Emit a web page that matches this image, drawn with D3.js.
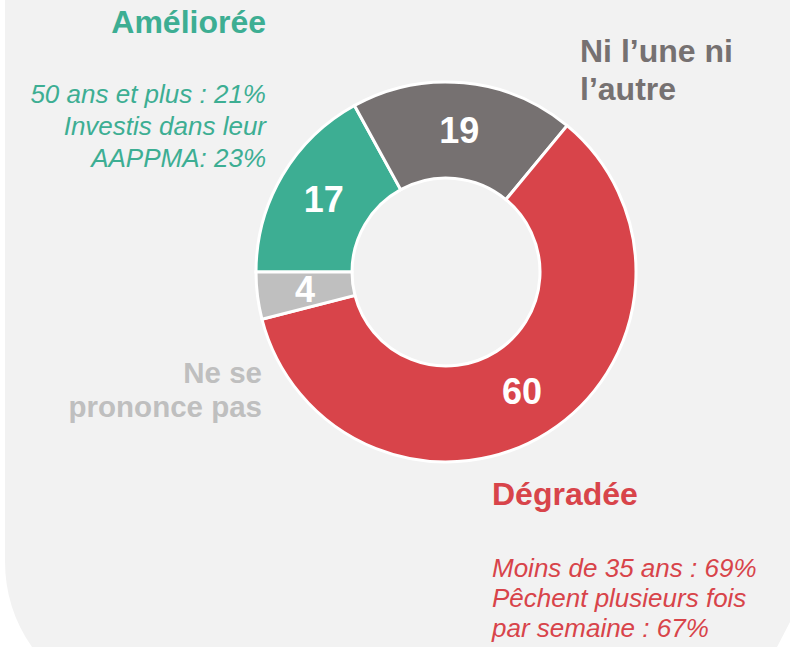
<!DOCTYPE html>
<html>
<head>
<meta charset="utf-8">
<script src="https://cdn.jsdelivr.net/npm/d3@7"></script>
<style>
  body { margin: 0; background: #fff; }
  svg { display: block; font-family: "Liberation Sans", Arial, sans-serif; }
</style>
</head>
<body>
<div class="chart"></div>
<script>
const categories = ['Améliorée', 'Ni l’une ni l’autre', 'Dégradée', 'Ne se prononce pas'];
const values = [17, 19, 60, 4];
const colors = ['#3dae93', '#767171', '#d8444a', '#bfbfbf'];

// titres et sous-titres autour de l'anneau
const titleLines = [
    ['Améliorée'],
    ['Ni l’une ni', 'l’autre'],
    ['Dégradée'],
    ['Ne se', 'prononce pas']
];
const noteLines = [
    ['50 ans et plus : 21%', 'Investis dans leur', 'AAPPMA: 23%'],
    [],
    ['Moins de 35 ans : 69%', 'Pêchent plusieurs fois', 'par semaine : 67%'],
    []
];

const width = 790, height = 647;
const cx = 446, cy = 272;
const outerR = 190, innerR = 94;

const svg = d3.select('.chart')
    .append('svg')
    .attr('width', width)
    .attr('height', height);

// fond gris avec coin bas-gauche arrondi
svg.append('path')
    .attr('d', 'M5,0 H790 V622 L777,647 H32 A150,150 0 0 1 5,561 Z')
    .attr('fill', '#f2f2f2');

const pie = d3.pie()
    .sort(null)
    .value(d => d)
    .startAngle(-Math.PI / 2)
    .endAngle(1.5 * Math.PI);

const arc = d3.arc()
    .innerRadius(innerR)
    .outerRadius(outerR);

const g = svg.append('g')
    .attr('transform', `translate(${cx},${cy})`);

const arcs = pie(values);

g.selectAll('path')
    .data(arcs)
    .enter()
    .append('path')
    .attr('d', arc)
    .attr('fill', (d, i) => colors[i])
    .attr('stroke', '#ffffff')
    .attr('stroke-width', 3);

g.selectAll('text.val')
    .data(arcs)
    .enter()
    .append('text')
    .attr('class', 'val')
    .attr('x', d => arc.centroid(d)[0])
    .attr('y', d => arc.centroid(d)[1])
    .attr('dy', '0.35em')
    .attr('text-anchor', 'middle')
    .attr('font-size', 36)
    .attr('font-weight', 'bold')
    .attr('fill', '#ffffff')
    .text(d => d.data);

// position des blocs de texte: [x, y du premier titre, ancrage, interligne, taille]
const labelPos = [
    [266, 33, 'end', 38, 32],
    [580, 62, 'start', 38, 32],
    [492, 505, 'start', 38, 32],
    [262, 383, 'end', 34, 29.5]
];
const notePos = [
    [266, 103, 32],
    null,
    [492, 577, 30],
    null
];

categories.forEach((c, i) => {
    const [x, y, anchor, lh, fs] = labelPos[i];
    const t = svg.append('text')
        .attr('x', x)
        .attr('y', y)
        .attr('text-anchor', anchor)
        .attr('font-size', fs)
        .attr('font-weight', 'bold')
        .attr('fill', colors[i]);
    titleLines[i].forEach((line, k) => {
        t.append('tspan')
            .attr('x', x)
            .attr('y', y + k * lh)
            .text(line);
    });

    if (notePos[i]) {
        const [nx, ny, nlh] = notePos[i];
        const n = svg.append('text')
            .attr('x', nx)
            .attr('y', ny)
            .attr('text-anchor', anchor)
            .attr('font-size', 26)
            .attr('font-style', 'italic')
            .attr('fill', colors[i]);
        noteLines[i].forEach((line, k) => {
            n.append('tspan')
                .attr('x', nx)
                .attr('y', ny + k * nlh)
                .text(line);
        });
    }
});
</script>
</body>
</html>
